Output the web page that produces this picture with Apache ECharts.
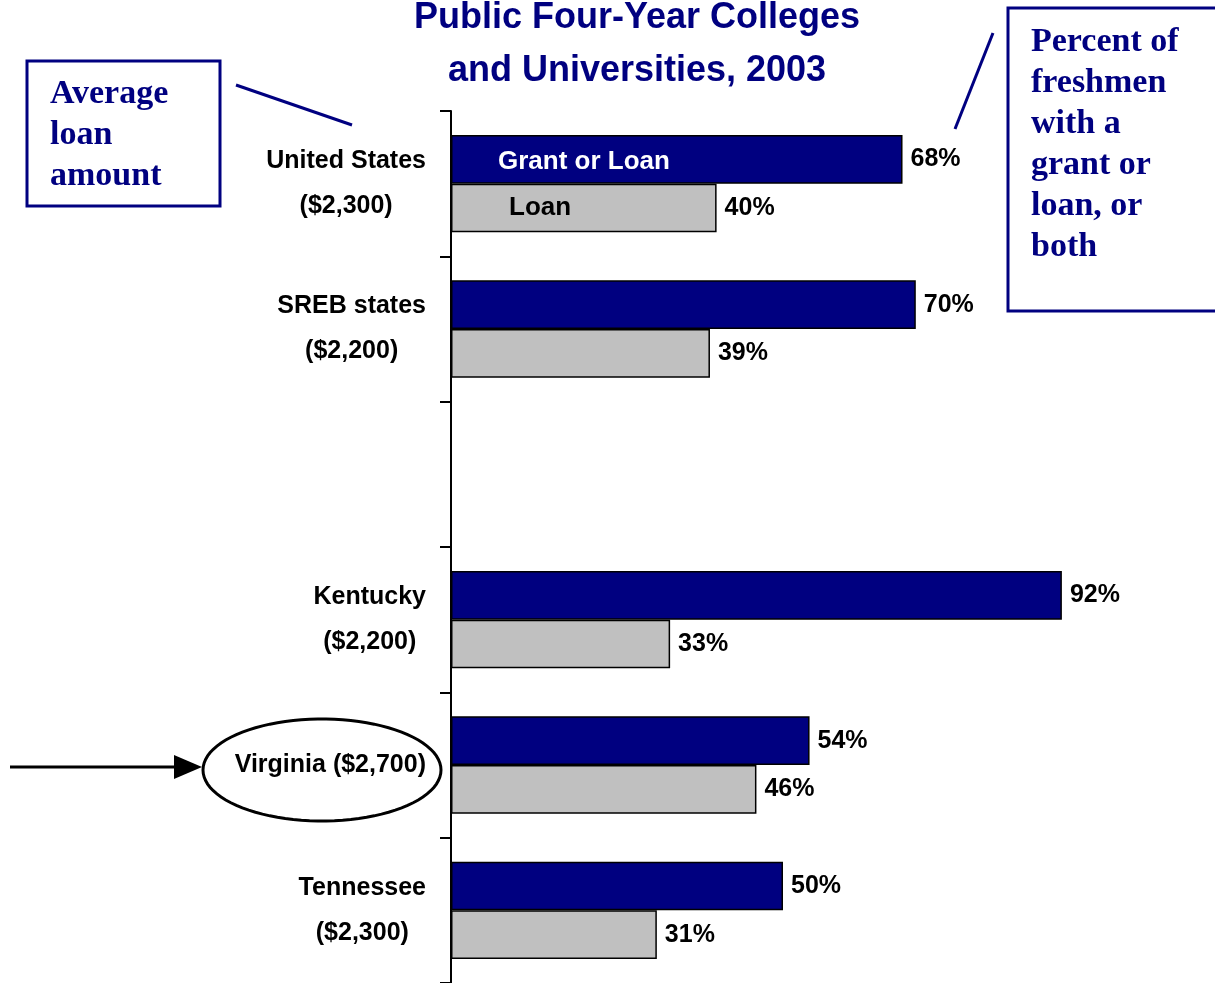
<!DOCTYPE html>
<html>
<head>
<meta charset="utf-8">
<title>Public Four-Year Colleges and Universities, 2003</title>
<script src="https://cdn.jsdelivr.net/npm/echarts@6/dist/echarts.min.js"></script>
<style>
  html, body { margin: 0; padding: 0; background: #fff; }
  #chart { width: 1215px; height: 983px; }
</style>
</head>
<body>
<div id="chart"></div>
<script>
// data
const categories = ['United States', 'SREB states', '', 'Kentucky', 'Virginia', 'Tennessee']
const loanAmounts = ['$2,300', '$2,200', '', '$2,200', '$2,700', '$2,300']
const grantOrLoan = [68, 70, null, 92, 54, 50]
const loanOnly = [40, 39, null, 33, 46, 31]

const NAVY = '#000080'
const GREY = '#c0c0c0'
const SANS = '"Liberation Sans", Arial, sans-serif'
const SERIF = '"Liberation Serif", "Times New Roman", serif'

// y axis labels: name over amount, lines centred; Virginia on one line
const yLabels = categories.map((c, i) => {
  if (!c) return ''
  if (c === 'Virginia') return c + ' (' + loanAmounts[i] + ')'
  return c + '\n(' + loanAmounts[i] + ')'
})

// ellipse points around the Virginia label
function ellipse(cx, cy, rx, ry) {
  const pts = []
  for (let i = 0; i < 90; i++) {
    const a = i / 90 * Math.PI * 2
    pts.push([cx + rx * Math.cos(a), cy + ry * Math.sin(a)])
  }
  return pts
}

const chart = echarts.init(document.getElementById('chart'))

const valueLabel = {
  show: true,
  position: 'right',
  distance: 8,
  formatter: p => p.value == null ? '' : p.value + '%',
  color: '#000',
  fontFamily: SANS,
  fontWeight: 'bold',
  fontSize: 25
}

chart.setOption({
  animation: false,
  title: {
    text: 'Public Four-Year Colleges\nand Universities, 2003',
    left: 637,
    textAlign: 'center',
    top: -8,
    padding: 0,
    textStyle: {
      color: NAVY,
      fontFamily: SANS,
      fontWeight: 'bold',
      fontSize: 36,
      lineHeight: 53
    }
  },
  grid: {
    left: 451,
    top: 111,
    width: 664,
    height: 876
  },
  xAxis: {
    type: 'value',
    min: 0,
    max: 100,
    show: false
  },
  yAxis: {
    type: 'category',
    inverse: true,
    data: yLabels,
    axisLine: { show: true, lineStyle: { color: '#000', width: 2 } },
    axisTick: { show: true, length: 11, lineStyle: { color: '#000', width: 2 } },
    axisLabel: {
      margin: 25,
      color: '#000',
      fontFamily: SANS,
      fontWeight: 'bold',
      fontSize: 25,
      lineHeight: 45,
      formatter: v => v.split('\n').map(s => '{c|' + s + '}').join('\n'),
      rich: {
        c: {
          align: 'center',
          color: '#000',
          fontFamily: SANS,
          fontWeight: 'bold',
          fontSize: 25,
          lineHeight: 45
        }
      }
    }
  },
  series: [
    {
      name: 'Grant or Loan',
      type: 'bar',
      data: grantOrLoan,
      barGap: '0%',
      barCategoryGap: '33%',
      itemStyle: { color: NAVY, borderColor: '#000', borderWidth: 1.5 },
      label: valueLabel
    },
    {
      name: 'Loan',
      type: 'bar',
      data: loanOnly,
      itemStyle: { color: GREY, borderColor: '#000', borderWidth: 1.5 },
      label: valueLabel
    }
  ],
  graphic: [
    // legend text inside the first pair of bars
    {
      type: 'text', x: 498, y: 162, z: 100,
      style: { text: 'Grant or Loan', fill: '#fff', fontFamily: SANS, fontWeight: 'bold', fontSize: 26, textVerticalAlign: 'middle' }
    },
    {
      type: 'text', x: 509, y: 208, z: 100,
      style: { text: 'Loan', fill: '#000', fontFamily: SANS, fontWeight: 'bold', fontSize: 26, textVerticalAlign: 'middle' }
    },
    // left call-out box
    {
      type: 'rect', shape: { x: 27, y: 61, width: 193, height: 145 },
      style: { fill: '#fff', stroke: NAVY, lineWidth: 3 }
    },
    {
      type: 'text', x: 50, y: 74, z: 100,
      style: { text: 'Average\nloan\namount', fill: NAVY, fontFamily: SERIF, fontWeight: 'bold', fontSize: 34, lineHeight: 41 }
    },
    {
      type: 'line', shape: { x1: 236, y1: 85, x2: 352, y2: 125 },
      style: { stroke: NAVY, lineWidth: 3 }
    },
    // right call-out box
    {
      type: 'rect', shape: { x: 1008, y: 8, width: 215, height: 303 },
      style: { fill: '#fff', stroke: NAVY, lineWidth: 3 }
    },
    {
      type: 'text', x: 1031, y: 22, z: 100,
      style: { text: 'Percent of\nfreshmen\nwith a\ngrant or\nloan, or\nboth', fill: NAVY, fontFamily: SERIF, fontWeight: 'bold', fontSize: 34, lineHeight: 41 }
    },
    {
      type: 'line', shape: { x1: 993, y1: 33, x2: 955, y2: 129 },
      style: { stroke: NAVY, lineWidth: 3 }
    },
    // Virginia highlight
    {
      type: 'polygon', shape: { points: ellipse(322, 770, 119, 51) },
      style: { fill: 'none', stroke: '#000', lineWidth: 3 }
    },
    {
      type: 'line', shape: { x1: 10, y1: 767, x2: 180, y2: 767 },
      style: { stroke: '#000', lineWidth: 3 }
    },
    {
      type: 'polygon', shape: { points: [[174, 755], [202, 767], [174, 779]] },
      style: { fill: '#000' }
    }
  ]
})
</script>
</body>
</html>
